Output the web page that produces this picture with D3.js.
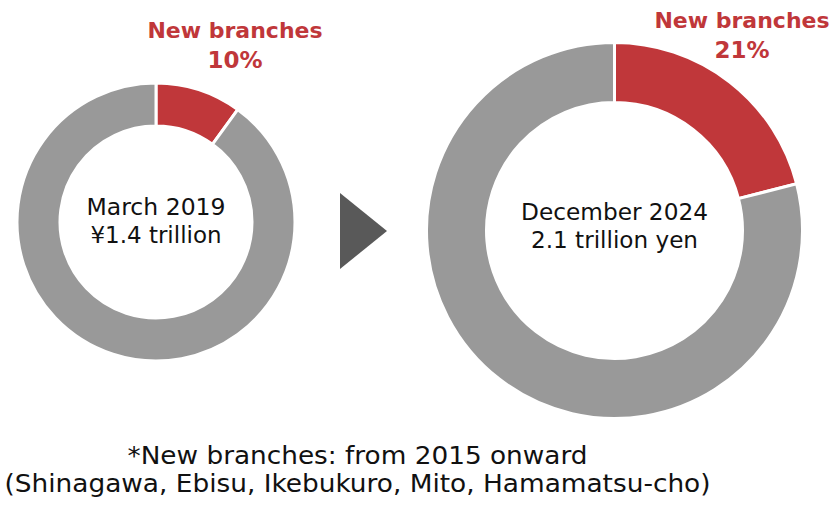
<!DOCTYPE html>
<html>
<head>
<meta charset="utf-8">
<script src="https://cdn.jsdelivr.net/npm/d3@7"></script>
<style>
  html, body { margin: 0; padding: 0; background: #fff; }
  svg { display: block; }
</style>
</head>
<body>
<svg id="chart" width="835" height="509"></svg>
<script>
// Share of deposits held at new branches, two points in time
const periods = ["March 2019", "December 2024"];
const totals = ["¥1.4 trillion", "2.1 trillion yen"];
const newBranchShare = [10, 21];
const segmentNames = ["New branches", "Other branches"];
const footnotes = [
  "*New branches: from 2015 onward",
  "(Shinagawa, Ebisu, Ikebukuro, Mito, Hamamatsu-cho)"
];

const colors = d3.scaleOrdinal().domain(segmentNames).range(["#C0373A", "#999999"]);

const svg = d3.select("#chart");
const font = "'DejaVu Sans', Verdana, sans-serif";

// Layout of each donut (centre, radii, label placement)
const layout = [
  { cx: 156, cy: 222, r: 139, ir: 96, labelX: 235, labelY: 38, c1: 215, c2: 243,
    w1: 139, w2: 131 },
  { cx: 614.5, cy: 230.5, r: 188, ir: 128, labelX: 742, labelY: 28, c1: 220, c2: 248,
    w1: 187, w2: 167 }
];

const pie = d3.pie().sort(null).value(d => d.value);

periods.forEach((p, i) => {
  const L = layout[i];
  const data = [
    { name: segmentNames[0], value: newBranchShare[i] },
    { name: segmentNames[1], value: 100 - newBranchShare[i] }
  ];
  const arc = d3.arc().innerRadius(L.ir).outerRadius(L.r);
  const g = svg.append("g").attr("transform", `translate(${L.cx},${L.cy})`);
  g.selectAll("path")
    .data(pie(data))
    .join("path")
    .attr("d", arc)
    .attr("fill", d => colors(d.data.name))
    .attr("stroke", "#fff")
    .attr("stroke-width", 3);

  // Centre text
  g.append("text")
    .attr("x", 0).attr("y", L.c1 - L.cy)
    .attr("text-anchor", "middle")
    .attr("font-family", font).attr("font-size", 23.5).attr("fill", "#111")
    .attr("textLength", L.w1).attr("lengthAdjust", "spacingAndGlyphs")
    .text(p);
  g.append("text")
    .attr("x", 0).attr("y", L.c2 - L.cy)
    .attr("text-anchor", "middle")
    .attr("font-family", font).attr("font-size", 23.5).attr("fill", "#111")
    .attr("textLength", L.w2).attr("lengthAdjust", "spacingAndGlyphs")
    .text(totals[i]);

  // Red callout label
  svg.append("text")
    .attr("x", L.labelX).attr("y", L.labelY)
    .attr("text-anchor", "middle")
    .attr("font-family", font).attr("font-weight", "bold").attr("font-size", 22)
    .attr("fill", colors(segmentNames[0]))
    .text(segmentNames[0]);
  svg.append("text")
    .attr("x", L.labelX).attr("y", L.labelY + 30)
    .attr("text-anchor", "middle")
    .attr("font-family", font).attr("font-weight", "bold").attr("font-size", 23)
    .attr("fill", colors(segmentNames[0]))
    .text(newBranchShare[i] + "%");
});

// Arrow between the two donuts
svg.append("path")
  .attr("d", d3.line()([[340, 193], [387, 231], [340, 269]]) + "Z")
  .attr("fill", "#595959");

// Footnotes
const footWidths = [460, 706];
footnotes.forEach((t, i) => {
  svg.append("text")
    .attr("x", 357.5).attr("y", 464 + i * 28)
    .attr("text-anchor", "middle")
    .attr("font-family", font).attr("font-size", 24).attr("fill", "#111")
    .attr("textLength", footWidths[i]).attr("lengthAdjust", "spacingAndGlyphs")
    .text(t);
});
</script>
</body>
</html>
